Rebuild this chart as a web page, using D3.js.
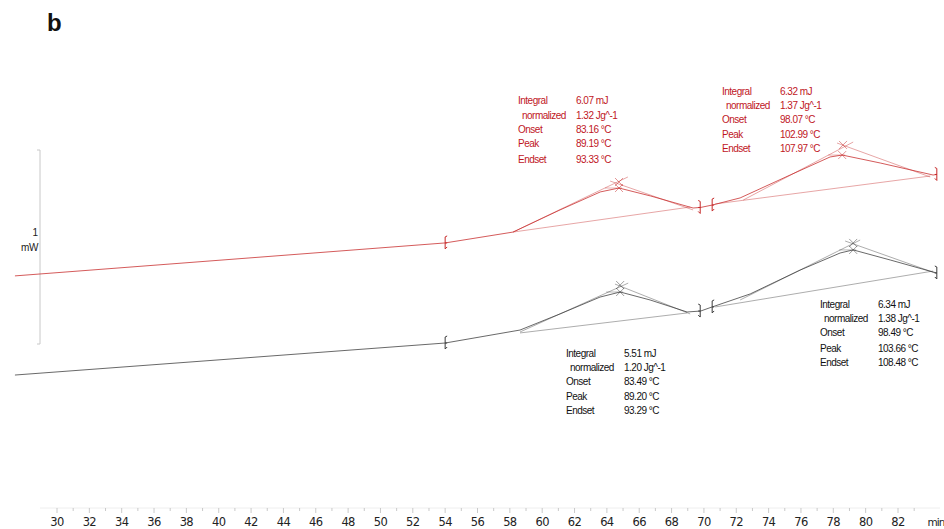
<!DOCTYPE html>
<html>
<head>
<meta charset="utf-8">
<script src="https://cdn.jsdelivr.net/npm/d3@7"></script>
<style>
  html, body { margin: 0; padding: 0; background: #fff; }
  svg { display: block; }
</style>
</head>
<body>
<svg id="chart" width="944" height="529"></svg>
<script>
// ---- DSC heat-flow traces (time in min, heat flow in mW, offset per run) ----
const redTime  = [27.4, 54.0, 58.2, 61.1, 63.6, 64.75, 66.7, 69.33, 69.8, 70.5, 72.24, 75.33, 77.8, 78.55, 80.9, 84.17, 84.4];
const redFlow  = [0.351, 0.521, 0.577, 0.691, 0.784, 0.804, 0.763, 0.701, 0.704, 0.716, 0.753, 0.871, 0.964, 0.974, 0.933, 0.871, 0.874];
const blackTime = [27.4, 54.0, 58.63, 61.1, 63.58, 64.82, 66.67, 68.96, 69.8, 70.51, 72.86, 75.95, 78.42, 79.23, 81.52, 84.17, 84.4];
const blackFlow = [-0.160, 0.005, 0.072, 0.155, 0.242, 0.268, 0.227, 0.165, 0.170, 0.191, 0.258, 0.381, 0.469, 0.485, 0.433, 0.371, 0.366];

// Evaluated peaks: integration limits, baseline, onset/endset tangents, peak points
const redPeaks = [
  { limits: [54.0, 69.77], base: [[58.2, 0.577], [69.15, 0.706]],
    onset: [[58.2, 0.577], [65.3, 0.861]], endset: [[64.2, 0.840], [69.33, 0.691]],
    cross: [64.75, 0.835], peak: [64.75, 0.804] },
  { limits: [70.51, 84.4], base: [[70.7, 0.722], [84.0, 0.866]],
    onset: [[72.43, 0.742], [79.23, 1.041]], endset: [[78.23, 1.036], [83.99, 0.861]],
    cross: [78.6, 1.026], peak: [78.55, 0.974] }
];
const blackPeaks = [
  { limits: [54.0, 69.77], base: [[58.63, 0.057], [68.96, 0.160]],
    onset: [[58.63, 0.062], [65.32, 0.314]], endset: [[64.5, 0.309], [69.15, 0.155]],
    cross: [64.82, 0.304], peak: [64.82, 0.268] },
  { limits: [70.51, 84.4], base: [[70.7, 0.191], [84.17, 0.376]],
    onset: [[72.24, 0.227], [79.66, 0.536]], endset: [[78.73, 0.531], [84.3, 0.366]],
    cross: [79.23, 0.521], peak: [79.23, 0.485] }
];

// Evaluation results
const resultLabels = ["Integral", "normalized", "Onset", "Peak", "Endset"];
const redResults = [
  ["6.07 mJ", "1.32 Jg^-1", "83.16 °C", "89.19 °C", "93.33 °C"],
  ["6.32 mJ", "1.37 Jg^-1", "98.07 °C", "102.99 °C", "107.97 °C"]
];
const blackResults = [
  ["5.51 mJ", "1.20 Jg^-1", "83.49 °C", "89.20 °C", "93.29 °C"],
  ["6.34 mJ", "1.38 Jg^-1", "98.49 °C", "103.66 °C", "108.48 °C"]
];

// Time axis
const tickMinutes = d3.range(30, 84, 2);
const minorMinutes = d3.range(30, 84, 1);
const scaleBar = [0, 1]; // mW

const RED = "#c62828", RED_TEXT = "#c0161e", DARK = "#3a3a3a";

const svg = d3.select("#chart");
svg.append("rect").attr("width", 944).attr("height", 529).attr("fill", "#fff");

const x = d3.scaleLinear().domain([30, 82]).range([57, 898]);
const y = d3.scaleLinear().domain([0, 1]).range([344, 150]);

// panel label
svg.append("text").attr("x", 47).attr("y", 31)
  .attr("font-family", "Liberation Sans, Arial, sans-serif")
  .attr("font-weight", "bold").attr("font-size", 24).attr("fill", "#111").text("b");

// heat flow scale bar
const bar = svg.append("g").attr("stroke", "#c8c8c8").attr("stroke-width", 1);
bar.append("line").attr("x1", 40).attr("x2", 40).attr("y1", y(scaleBar[1])).attr("y2", y(scaleBar[0]));
scaleBar.forEach(v => bar.append("line").attr("x1", 37).attr("x2", 40).attr("y1", y(v)).attr("y2", y(v)));
svg.append("text").attr("x", 38).attr("y", 236).attr("text-anchor", "end")
  .attr("font-family", "Liberation Sans Narrow, Liberation Sans, sans-serif")
  .attr("font-size", 10).attr("fill", "#222").text("1");
svg.append("text").attr("x", 38).attr("y", 251).attr("text-anchor", "end")
  .attr("font-family", "Liberation Sans Narrow, Liberation Sans, sans-serif")
  .attr("font-size", 10).attr("letter-spacing", -0.4).attr("fill", "#222").text("mW");

// time axis
const axisY = 508;
const ax = svg.append("g").attr("transform", `translate(0,${axisY})`);
ax.append("line").attr("x1", 40).attr("x2", 940).attr("stroke", "#eeeeee");
ax.selectAll("line.minor").data(minorMinutes).join("line").attr("class", "minor")
  .attr("x1", d => x(d)).attr("x2", d => x(d)).attr("y1", 0).attr("y2", d => d % 2 === 0 ? 5 : 3)
  .attr("stroke", "#bdbdbd").attr("stroke-width", 0.8);
ax.selectAll("text.tick").data(tickMinutes).join("text").attr("class", "tick")
  .attr("x", d => x(d)).attr("y", 18).attr("text-anchor", "middle")
  .attr("font-family", "DejaVu Sans, sans-serif")
  .attr("font-size", 11.5).attr("letter-spacing", -0.6).attr("fill", "#222").text(d => d);
ax.append("text").attr("x", x(84.35)).attr("y", 18).attr("text-anchor", "middle")
  .attr("font-family", "DejaVu Sans, sans-serif")
  .attr("font-size", 10.5).attr("letter-spacing", -1).attr("fill", "#222").text("min");

const line = d3.line().x(d => x(d[0])).y(d => y(d[1]));

function drawRun(times, flows, peaks, color, results, boxes) {
  const g = svg.append("g");
  const pts = d3.zip(times, flows);
  const flowAt = t => {
    const i = d3.bisector(d => d[0]).left(pts, t);
    if (i <= 0) return pts[0][1];
    if (i >= pts.length) return pts[pts.length - 1][1];
    const a = pts[i - 1], b = pts[i];
    return a[1] + (b[1] - a[1]) * (t - a[0]) / (b[0] - a[0]);
  };
  // trace
  g.append("path").attr("d", line(pts)).attr("fill", "none")
    .attr("stroke", color).attr("stroke-width", 0.9).attr("stroke-opacity", 0.85);

  peaks.forEach(p => {
    // baseline and tangents
    [p.base, p.onset, p.endset].forEach(seg => {
      g.append("path").attr("d", line(seg)).attr("fill", "none")
        .attr("stroke", color).attr("stroke-width", 0.7).attr("stroke-opacity", 0.6);
    });
    // peak height bar
    g.append("line").attr("x1", x(p.peak[0]) - 14).attr("x2", x(p.peak[0]) + 3)
      .attr("y1", y(p.peak[1])).attr("y2", y(p.peak[1]))
      .attr("stroke", color).attr("stroke-width", 0.6).attr("stroke-opacity", 0.6);
    // cross markers
    [p.cross, p.peak].forEach(c => {
      const cx = x(c[0]), cy = y(c[1]), s = 4;
      g.append("path").attr("d", `M${cx - s},${cy - s}L${cx + s},${cy + s}M${cx - s},${cy + s}L${cx + s},${cy - s}`)
        .attr("stroke", color).attr("stroke-width", 0.7).attr("stroke-opacity", 0.7);
    });
    // integration limit brackets
    p.limits.forEach((t, k) => {
      const cx = x(t), cy = y(flowAt(t));
      const dir = k === 0 ? 1 : -1;
      g.append("path")
        .attr("d", `M${cx},${cy - 6}L${cx},${cy + 6}M${cx},${cy - 6}l${2 * dir},-1M${cx},${cy + 6}l${2 * dir},-2M${cx},${cy}l${2 * dir},0`)
        .attr("fill", "none").attr("stroke", color).attr("stroke-width", 1);
    });
  });

  // result tables
  results.forEach((vals, i) => {
    const b = boxes[i];
    resultLabels.forEach((lab, r) => {
      const ty = b.y + b.rows[r];
      g.append("text").attr("x", b.x + (r === 1 ? 4 : 0)).attr("y", ty)
        .attr("font-family", "Liberation Sans Narrow, Liberation Sans, sans-serif")
        .attr("font-size", 10).attr("letter-spacing", -0.5).attr("fill", b.color).text(lab);
      g.append("text").attr("x", b.x + 58).attr("y", ty)
        .attr("font-family", "Liberation Sans Narrow, Liberation Sans, sans-serif")
        .attr("font-size", 10).attr("letter-spacing", -0.5).attr("fill", b.color).text(vals[r]);
    });
  });
}

const rows = [0, 15, 29, 43, 59];
drawRun(redTime, redFlow, redPeaks, RED, redResults, [
  { x: 518, y: 104, rows, color: RED_TEXT },
  { x: 722, y: 95, rows: [0, 14, 28, 43, 57], color: RED_TEXT }
]);
drawRun(blackTime, blackFlow, blackPeaks, DARK, blackResults, [
  { x: 566, y: 357, rows: [0, 14, 28, 43, 57], color: "#111" },
  { x: 820, y: 308, rows: [0, 14, 28, 44, 58], color: "#111" }
]);
</script>
</body>
</html>
